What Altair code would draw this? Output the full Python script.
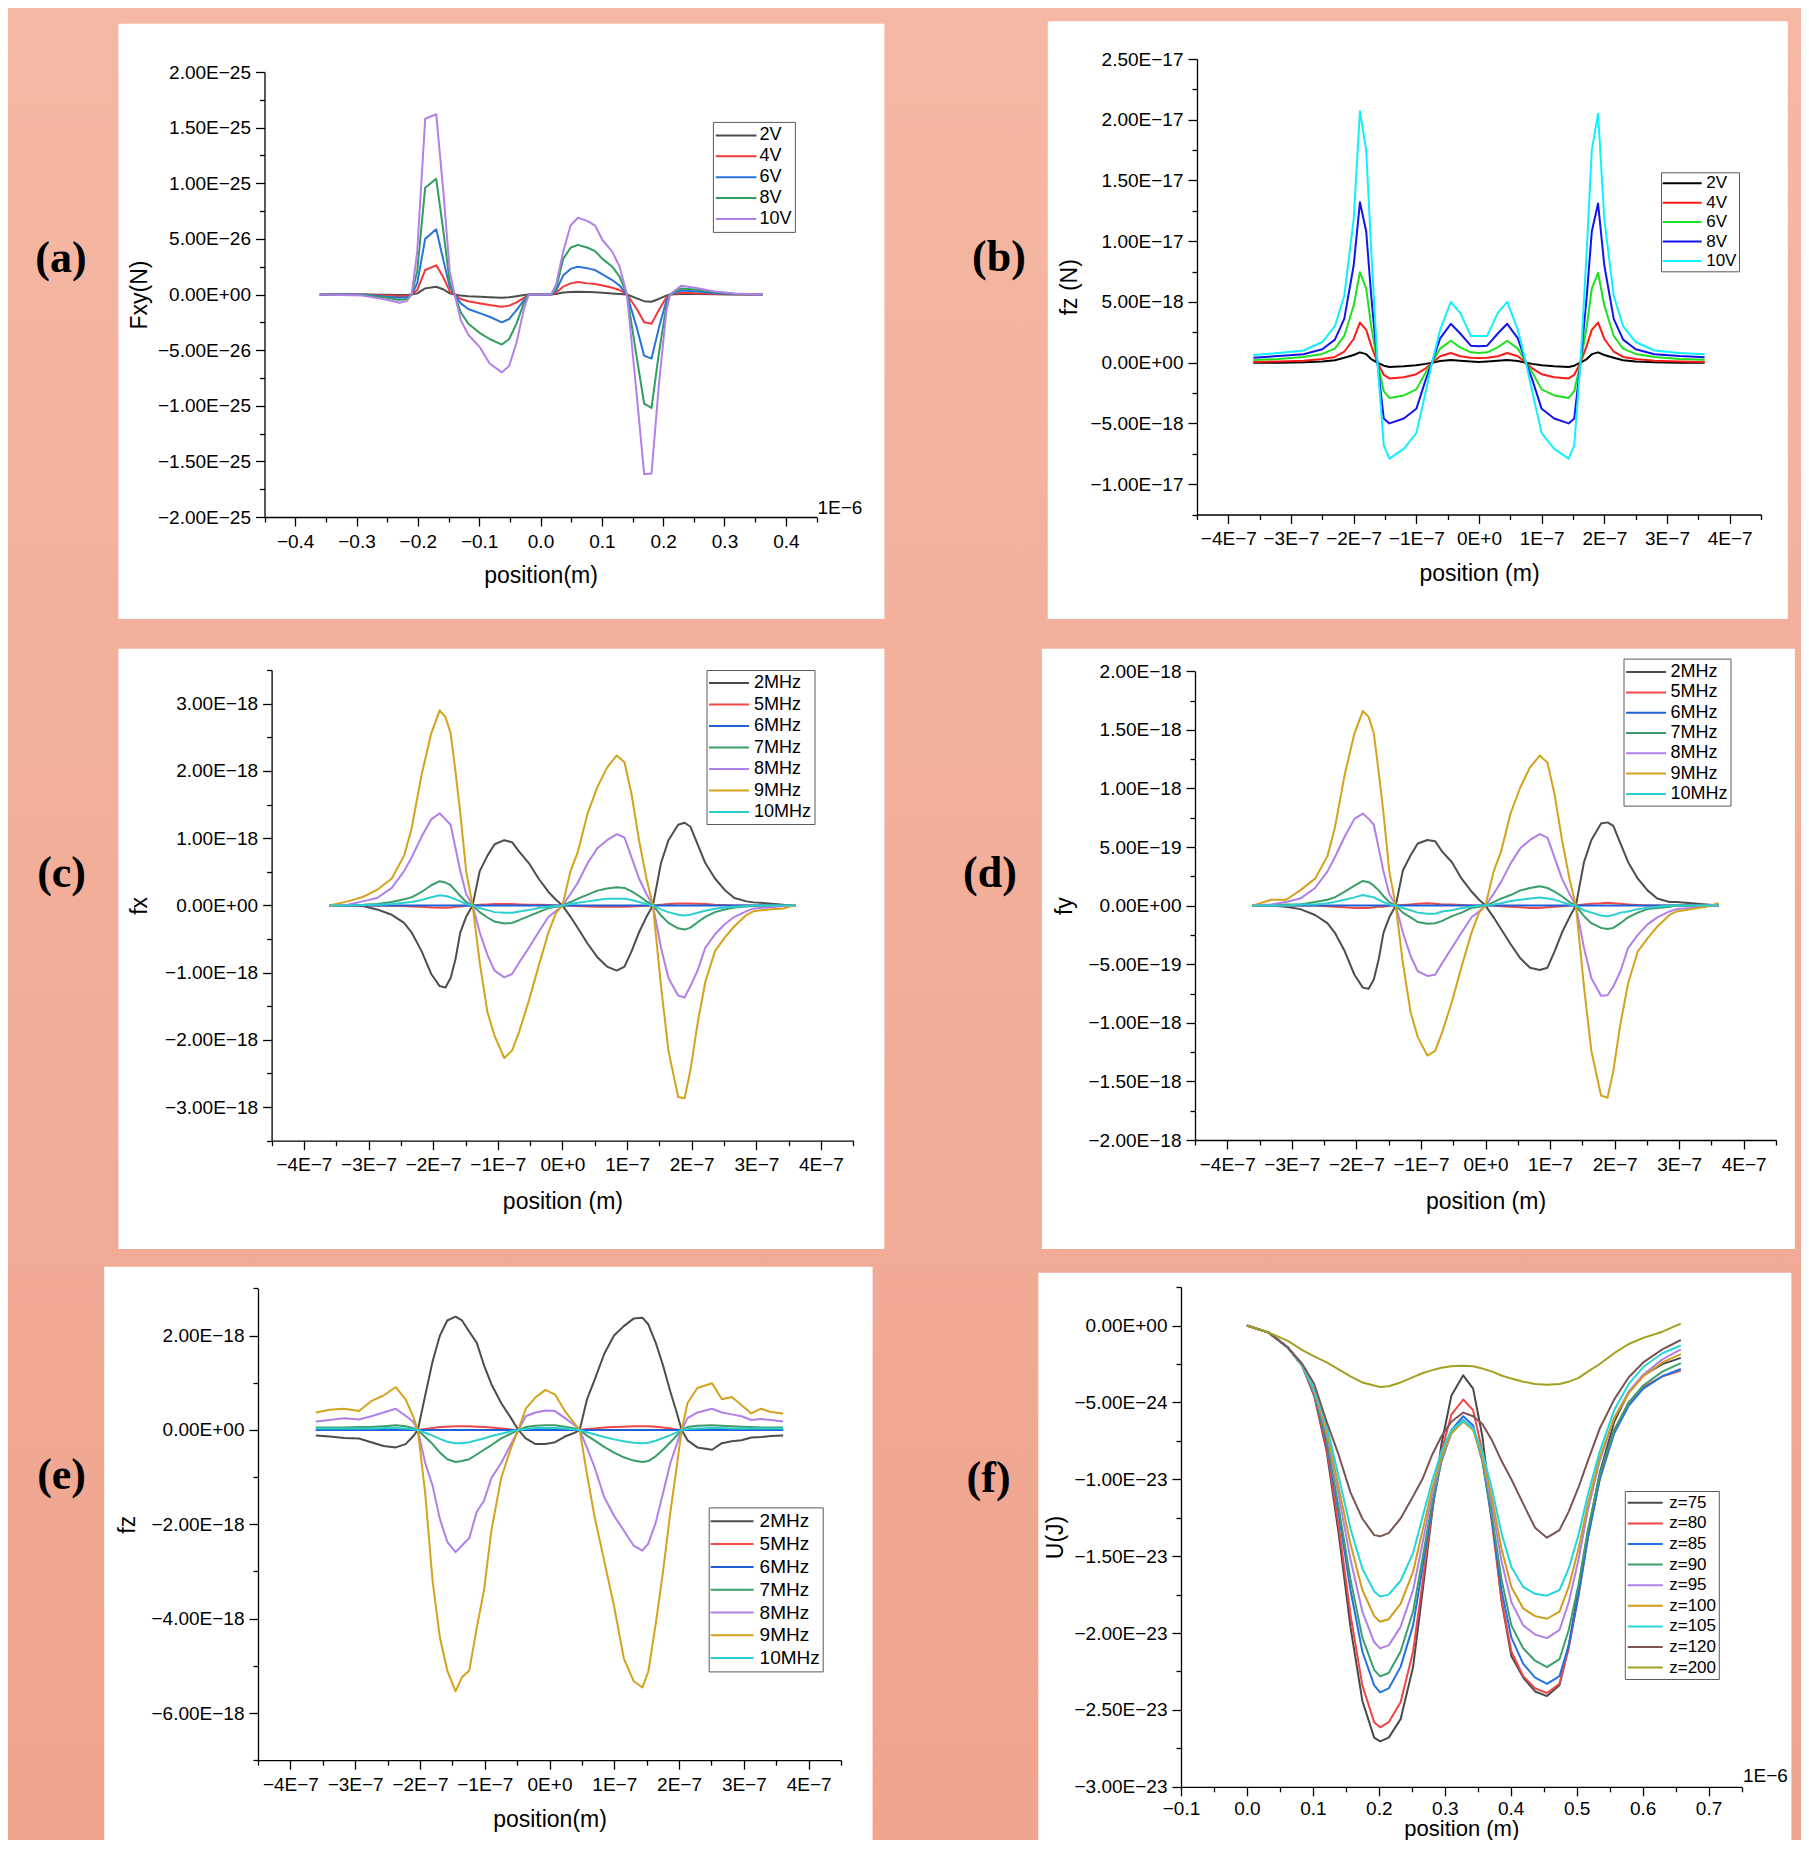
import math
import altair as alt
import pandas as pd

MINUS = "\u2212"
FONT = "Liberation Sans"

# ---------------- (a) Fxy vs position (x in 1e-6 m, y in 1e-25 N) ----------------
A_SERIES = ["2V", "4V", "6V", "8V", "10V"]
A_X = [-0.36, -0.29, -0.25, -0.23, -0.218, -0.21, -0.201, -0.188, -0.17, -0.158, -0.148, -0.14,
       -0.13, -0.118, -0.098, -0.083, -0.063, -0.051, -0.039, -0.027, -0.019, 0.017, 0.025, 0.037,
       0.049, 0.061, 0.077, 0.089, 0.101, 0.117, 0.129, 0.141, 0.157, 0.169, 0.181, 0.193, 0.205,
       0.211, 0.229, 0.252, 0.284, 0.316, 0.362]
A_2V = [0, 0, -0.003, -0.005, -0.004, 0, 0.01, 0.055, 0.07, 0.045, 0.01, 0, -0.01, -0.015, -0.02,
        -0.025, -0.03, -0.025, -0.015, -0.005, 0, 0, 0.005, 0.018, 0.022, 0.024, 0.022, 0.02, 0.015,
        0.01, 0.005, 0, -0.035, -0.06, -0.065, -0.04, -0.01, 0, 0.005, 0.004, 0.002, 0, 0]
A_4V = [0, 0, -0.01, -0.015, -0.012, 0, 0.04, 0.22, 0.262, 0.15, 0.03, 0, -0.04, -0.06, -0.08,
        -0.095, -0.11, -0.10, -0.07, -0.03, 0, 0, 0.015, 0.07, 0.10, 0.112, 0.10, 0.095, 0.08, 0.06,
        0.04, 0, -0.13, -0.25, -0.262, -0.14, -0.03, 0, 0.015, 0.012, 0.005, 0.002, 0]
A_6V = [0, 0, -0.02, -0.03, -0.025, 0, 0.10, 0.50, 0.586, 0.30, 0.07, 0, -0.08, -0.13, -0.17,
        -0.20, -0.25, -0.22, -0.14, -0.05, 0, 0, 0.03, 0.17, 0.23, 0.249, 0.235, 0.22, 0.18, 0.13,
        0.08, 0, -0.30, -0.55, -0.576, -0.30, -0.06, 0, 0.035, 0.03, 0.012, 0.004, 0]
A_8V = [0, -0.005, -0.03, -0.05, -0.04, 0, 0.21, 0.96, 1.04, 0.555, 0.11, 0, -0.16, -0.26, -0.35,
        -0.40, -0.45, -0.40, -0.26, -0.075, 0, 0, 0.044, 0.32, 0.42, 0.446, 0.42, 0.39, 0.32, 0.25,
        0.16, 0, -0.57, -0.98, -1.02, -0.53, -0.11, 0, 0.055, 0.044, 0.02, 0.007, 0]
A_10V = [0, -0.01, -0.048, -0.075, -0.058, 0, 0.385, 1.58, 1.62, 0.90, 0.21, 0, -0.23, -0.36, -0.48,
         -0.62, -0.70, -0.64, -0.43, -0.13, 0, 0, 0.08, 0.385, 0.62, 0.69, 0.66, 0.62, 0.49, 0.385,
         0.25, 0, -0.91, -1.615, -1.61, -0.81, -0.16, 0, 0.078, 0.06, 0.027, 0.01, 0]

# ---------------- (b) fz vs position (x in 1e-7 m, y in 1e-17 N) ----------------
B_SERIES = ["2V", "4V", "6V", "8V", "10V"]
B_X = [-3.6, -3.2, -2.8, -2.5, -2.3, -2.15, -2.0, -1.9, -1.8, -1.72, -1.62, -1.52, -1.43, -1.2,
       -1.0, -0.85, -0.75, -0.62, -0.45, -0.3, -0.13, 0.0, 0.13, 0.3, 0.45, 0.62, 0.75, 0.85, 1.0,
       1.2, 1.43, 1.52, 1.62, 1.72, 1.8, 1.9, 2.0, 2.15, 2.3, 2.5, 2.8, 3.2, 3.6]
B_2V = [0, 0, 0.003, 0.01, 0.02, 0.04, 0.063, 0.085, 0.07, 0.03, 0, -0.025, -0.035, -0.03, -0.022,
        -0.01, 0, 0.013, 0.022, 0.016, 0.01, 0.006, 0.01, 0.016, 0.022, 0.013, 0, -0.01, -0.022,
        -0.03, -0.035, -0.025, 0, 0.03, 0.07, 0.085, 0.063, 0.04, 0.02, 0.01, 0.003, 0, 0]
B_4V = [0.006, 0.01, 0.016, 0.03, 0.047, 0.09, 0.195, 0.33, 0.27, 0.14, 0, -0.10, -0.13, -0.12,
        -0.095, -0.047, 0, 0.053, 0.08, 0.053, 0.04, 0.038, 0.04, 0.053, 0.08, 0.053, 0, -0.047,
        -0.095, -0.12, -0.13, -0.10, 0, 0.14, 0.27, 0.33, 0.195, 0.09, 0.047, 0.03, 0.016, 0.01, 0.006]
B_6V = [0.022, 0.03, 0.047, 0.072, 0.116, 0.22, 0.47, 0.745, 0.61, 0.30, 0, -0.235, -0.29, -0.27,
        -0.22, -0.08, 0, 0.116, 0.18, 0.126, 0.085, 0.08, 0.085, 0.126, 0.18, 0.116, 0, -0.08, -0.22,
        -0.27, -0.29, -0.235, 0, 0.30, 0.61, 0.74, 0.47, 0.22, 0.116, 0.072, 0.047, 0.03, 0.025]
B_8V = [0.04, 0.055, 0.07, 0.11, 0.19, 0.36, 0.80, 1.32, 1.08, 0.55, 0, -0.46, -0.50, -0.46, -0.38,
        -0.14, 0, 0.20, 0.32, 0.24, 0.14, 0.135, 0.14, 0.24, 0.32, 0.20, 0, -0.14, -0.38, -0.46,
        -0.50, -0.46, 0, 0.55, 1.08, 1.31, 0.80, 0.36, 0.19, 0.11, 0.07, 0.055, 0.045]
B_10V = [0.063, 0.08, 0.10, 0.17, 0.30, 0.55, 1.18, 2.07, 1.75, 0.93, 0, -0.68, -0.79, -0.71, -0.58,
         -0.24, 0, 0.27, 0.50, 0.41, 0.22, 0.22, 0.22, 0.41, 0.50, 0.27, 0, -0.24, -0.58, -0.71,
         -0.79, -0.68, 0, 0.93, 1.75, 2.05, 1.18, 0.55, 0.30, 0.17, 0.10, 0.08, 0.07]

# ---------------- (c) fx vs position (x in 1e-7 m, y in 1e-18) ----------------
MHZ_SERIES = ["2MHz", "5MHz", "6MHz", "7MHz", "8MHz", "9MHz", "10MHz"]
C_X = [-3.61, -3.32, -3.09, -2.87, -2.64, -2.45, -2.335, -2.18, -2.03, -1.90, -1.81, -1.73, -1.655,
       -1.58, -1.49, -1.39, -1.28, -1.16, -1.05, -0.90, -0.78, -0.67, -0.52, -0.37, -0.216, -0.10,
       0.0, 0.125, 0.24, 0.39, 0.54, 0.69, 0.84, 0.96, 1.07, 1.185, 1.30, 1.40, 1.525, 1.64, 1.79,
       1.89, 1.98, 2.09, 2.21, 2.36, 2.51, 2.66, 2.85, 2.96, 3.19, 3.42, 3.61]
C_2 = [0, 0, -0.01, -0.06, -0.14, -0.26, -0.40, -0.68, -1.02, -1.20, -1.22, -1.08, -0.80, -0.40,
       -0.17, 0, 0.51, 0.74, 0.91, 0.97, 0.94, 0.80, 0.63, 0.40, 0.20, 0.085, 0, -0.17, -0.34, -0.57,
       -0.77, -0.91, -0.97, -0.91, -0.68, -0.40, -0.17, 0, 0.63, 0.97, 1.20, 1.23, 1.17, 0.91, 0.63,
       0.40, 0.23, 0.11, 0.06, 0.045, 0.03, 0.01, 0]
C_5 = [0, 0, 0, 0, -0.005, -0.01, -0.015, -0.02, -0.03, -0.035, -0.035, -0.03, -0.02, -0.015, -0.005,
       0, 0.01, 0.015, 0.02, 0.02, 0.02, 0.015, 0.01, 0.01, 0.005, 0, 0, -0.005, -0.01, -0.015, -0.02,
       -0.02, -0.02, -0.02, -0.015, -0.01, -0.005, 0, 0.01, 0.02, 0.03, 0.03, 0.03, 0.025, 0.02, 0.01,
       0.005, 0, 0, 0, 0, 0, 0]
C_6 = [0, 0, 0, 0, 0, 0, 0, 0, 0, 0, 0, 0, 0, 0, 0, 0, 0, 0, 0, 0, 0, 0, 0, 0, 0, 0, 0,
       0, 0, 0, 0, 0, 0, 0, 0, 0, 0, 0, 0, 0, 0, 0, 0, 0, 0, 0, 0, 0, 0, 0, 0, 0, 0]
C_7 = [0, 0.005, 0.01, 0.02, 0.05, 0.09, 0.12, 0.20, 0.30, 0.36, 0.34, 0.30, 0.22, 0.14, 0.05, 0,
       -0.10, -0.18, -0.24, -0.27, -0.26, -0.22, -0.16, -0.10, -0.04, -0.02, 0, 0.05, 0.10, 0.16,
       0.22, 0.25, 0.27, 0.26, 0.21, 0.14, 0.06, 0, -0.15, -0.26, -0.34, -0.36, -0.33, -0.25, -0.17,
       -0.10, -0.06, -0.03, -0.015, -0.01, 0, 0, 0]
C_8 = [0, 0.01, 0.06, 0.11, 0.26, 0.51, 0.71, 1.02, 1.28, 1.37, 1.28, 1.20, 0.85, 0.51, 0.17, 0,
       -0.40, -0.74, -0.97, -1.07, -1.02, -0.85, -0.63, -0.40, -0.17, -0.085, 0, 0.17, 0.34, 0.63,
       0.85, 0.97, 1.06, 1.01, 0.71, 0.40, 0.17, 0, -0.63, -1.08, -1.34, -1.37, -1.20, -0.97, -0.63,
       -0.43, -0.28, -0.17, -0.085, -0.045, -0.03, -0.01, 0]
C_9 = [0, 0.06, 0.125, 0.23, 0.40, 0.74, 1.14, 1.94, 2.56, 2.90, 2.80, 2.56, 1.99, 1.37, 0.51, 0,
       -0.85, -1.59, -1.94, -2.27, -2.16, -1.88, -1.42, -0.91, -0.40, -0.11, 0, 0.51, 0.80, 1.37,
       1.76, 2.05, 2.23, 2.13, 1.65, 0.97, 0.40, 0, -1.20, -2.16, -2.85, -2.87, -2.45, -1.76, -1.14,
       -0.68, -0.48, -0.31, -0.14, -0.085, -0.06, -0.045, 0.01]
C_10 = [0, 0, 0.005, 0.01, 0.02, 0.04, 0.05, 0.08, 0.12, 0.15, 0.14, 0.12, 0.09, 0.06, 0.02, 0,
        -0.04, -0.07, -0.10, -0.11, -0.11, -0.09, -0.07, -0.04, -0.02, -0.01, 0, 0.02, 0.04, 0.06,
        0.08, 0.10, 0.10, 0.10, 0.08, 0.05, 0.02, 0, -0.06, -0.10, -0.14, -0.15, -0.14, -0.11, -0.08,
        -0.05, -0.03, -0.02, -0.01, 0, 0, 0, 0]

# ---------------- (d) fy vs position (x in 1e-7 m, y in 1e-18) ----------------
D_X = [-3.61, -3.32, -3.09, -2.87, -2.64, -2.45, -2.335, -2.18, -2.03, -1.90, -1.81, -1.73, -1.655,
       -1.58, -1.49, -1.39, -1.28, -1.16, -1.05, -0.90, -0.78, -0.67, -0.52, -0.37, -0.216, -0.10,
       0.0, 0.125, 0.24, 0.39, 0.54, 0.69, 0.84, 0.96, 1.07, 1.185, 1.30, 1.40, 1.525, 1.64, 1.79,
       1.89, 1.98, 2.09, 2.21, 2.36, 2.51, 2.66, 2.85, 2.96, 3.19, 3.42, 3.61]
D_2 = [0, 0, -0.01, -0.03, -0.08, -0.15, -0.23, -0.39, -0.59, -0.70, -0.71, -0.63, -0.46, -0.23,
       -0.10, 0, 0.30, 0.43, 0.53, 0.56, 0.55, 0.46, 0.37, 0.23, 0.12, 0.05, 0, -0.10, -0.20, -0.33,
       -0.45, -0.53, -0.55, -0.53, -0.39, -0.23, -0.10, 0, 0.37, 0.56, 0.70, 0.71, 0.68, 0.53, 0.37,
       0.23, 0.13, 0.06, 0.03, 0.03, 0.02, 0.01, 0]
D_5 = [0, 0, 0, 0, 0, -0.005, -0.01, -0.015, -0.02, -0.02, -0.02, -0.015, -0.01, -0.01, 0, 0, 0.005,
       0.01, 0.015, 0.02, 0.015, 0.01, 0.01, 0.005, 0, 0, 0, 0, -0.005, -0.01, -0.015, -0.02, -0.02,
       -0.015, -0.01, -0.005, 0, 0, 0.01, 0.015, 0.02, 0.025, 0.02, 0.015, 0.01, 0.005, 0, 0, 0, 0,
       0, 0, 0]
D_6 = [0, 0, 0, 0, 0, 0, 0, 0, 0, 0, 0, 0, 0, 0, 0, 0, 0, 0, 0, 0, 0, 0, 0, 0, 0, 0, 0,
       0, 0, 0, 0, 0, 0, 0, 0, 0, 0, 0, 0, 0, 0, 0, 0, 0, 0, 0, 0, 0, 0, 0, 0, 0, 0]
D_7 = [0, 0, 0.01, 0.01, 0.03, 0.05, 0.07, 0.12, 0.17, 0.21, 0.20, 0.17, 0.13, 0.08, 0.03, 0, -0.06,
       -0.10, -0.14, -0.155, -0.15, -0.13, -0.09, -0.06, -0.02, -0.01, 0, 0.03, 0.06, 0.09, 0.13,
       0.15, 0.165, 0.15, 0.12, 0.08, 0.03, 0, -0.09, -0.15, -0.19, -0.20, -0.19, -0.15, -0.10,
       -0.06, -0.03, -0.02, -0.01, 0, 0, 0, 0]
D_8 = [0, 0.01, 0.03, 0.06, 0.15, 0.29, 0.41, 0.59, 0.74, 0.785, 0.74, 0.69, 0.49, 0.29, 0.10, 0,
       -0.23, -0.43, -0.56, -0.60, -0.59, -0.49, -0.36, -0.23, -0.10, -0.05, 0, 0.10, 0.20, 0.36,
       0.49, 0.56, 0.61, 0.58, 0.41, 0.23, 0.10, 0, -0.36, -0.62, -0.77, -0.765, -0.69, -0.56, -0.36,
       -0.25, -0.16, -0.10, -0.05, -0.03, -0.02, 0, 0]
D_9 = [0, 0.05, 0.05, 0.13, 0.23, 0.42, 0.66, 1.12, 1.47, 1.66, 1.61, 1.47, 1.14, 0.79, 0.29, 0,
       -0.49, -0.91, -1.12, -1.28, -1.24, -1.08, -0.82, -0.52, -0.23, -0.06, 0, 0.29, 0.46, 0.79,
       1.01, 1.18, 1.28, 1.22, 0.95, 0.56, 0.23, 0, -0.69, -1.24, -1.62, -1.64, -1.41, -1.01, -0.66,
       -0.39, -0.28, -0.18, -0.08, -0.05, -0.03, -0.01, 0.02]
D_10 = [0, 0, 0, 0.01, 0.01, 0.02, 0.03, 0.05, 0.07, 0.09, 0.08, 0.07, 0.05, 0.03, 0.01, 0, -0.02,
        -0.04, -0.06, -0.07, -0.07, -0.05, -0.04, -0.02, -0.01, 0, 0, 0.01, 0.02, 0.04, 0.05, 0.06,
        0.07, 0.06, 0.05, 0.03, 0.01, 0, -0.04, -0.06, -0.085, -0.09, -0.08, -0.06, -0.05, -0.03,
        -0.02, -0.01, 0, 0, 0, 0, 0]

# ---------------- (e) fz vs position (x in 1e-7 m, y in 1e-18) ----------------
E_X = [-3.607, -3.395, -3.168, -2.941, -2.752, -2.562, -2.373, -2.222, -2.108, -2.033, -1.919,
       -1.805, -1.692, -1.578, -1.45, -1.351, -1.238, -1.124, -1.011, -0.897, -0.746, -0.594,
       -0.481, -0.367, -0.216, -0.064, 0.087, 0.238, 0.39, 0.466, 0.579, 0.693, 0.844, 0.996, 1.147,
       1.298, 1.434, 1.525, 1.639, 1.752, 1.866, 1.964, 2.04, 2.131, 2.283, 2.51, 2.661, 2.813,
       2.964, 3.115, 3.267, 3.418, 3.607]
E_2 = [-0.12, -0.14, -0.17, -0.18, -0.26, -0.34, -0.37, -0.30, -0.14, 0, 0.73, 1.45, 2.0, 2.32, 2.40,
       2.32, 2.08, 1.85, 1.37, 0.97, 0.57, 0.25, 0, -0.18, -0.30, -0.30, -0.26, -0.14, -0.06, 0, 0.65,
       1.05, 1.61, 2.0, 2.20, 2.36, 2.38, 2.24, 1.85, 1.37, 0.81, 0.37, 0, -0.22, -0.37, -0.42, -0.28,
       -0.24, -0.22, -0.16, -0.15, -0.13, -0.12]
E_5 = [0, 0, 0, 0, 0, 0, 0, 0, 0, 0, 0.02, 0.04, 0.06, 0.07, 0.08, 0.08, 0.08, 0.07, 0.06, 0.05, 0.03,
       0.01, 0, 0, 0, 0, 0, 0, 0, 0, 0.02, 0.03, 0.05, 0.06, 0.07, 0.08, 0.08, 0.08, 0.07, 0.05, 0.03,
       0.01, 0, 0, 0, 0, 0, 0, 0, 0, 0, 0, 0]
E_6 = [0, 0, 0, 0, 0, 0, 0, 0, 0, 0, 0, 0, 0, 0, 0, 0, 0, 0, 0, 0, 0, 0, 0, 0, 0, 0, 0,
       0, 0, 0, 0, 0, 0, 0, 0, 0, 0, 0, 0, 0, 0, 0, 0, 0, 0, 0, 0, 0, 0, 0, 0, 0, 0]
E_7 = [0.05, 0.05, 0.05, 0.06, 0.06, 0.08, 0.10, 0.08, 0.04, 0, -0.15, -0.30, -0.48, -0.62, -0.68,
       -0.66, -0.62, -0.52, -0.42, -0.32, -0.18, -0.08, 0, 0.06, 0.09, 0.10, 0.10, 0.07, 0.03, 0,
       -0.12, -0.22, -0.36, -0.48, -0.58, -0.65, -0.68, -0.66, -0.56, -0.42, -0.26, -0.12, 0, 0.06,
       0.09, 0.10, 0.09, 0.08, 0.07, 0.06, 0.05, 0.05, 0.05]
E_8 = [0.18, 0.21, 0.25, 0.22, 0.29, 0.37, 0.45, 0.30, 0.18, 0, -0.70, -1.18, -1.89, -2.37, -2.59,
       -2.45, -2.29, -1.74, -1.50, -1.02, -0.70, -0.30, 0, 0.29, 0.37, 0.41, 0.40, 0.25, 0.10, 0,
       -0.38, -0.78, -1.42, -1.82, -2.13, -2.45, -2.56, -2.41, -1.97, -1.34, -0.70, -0.30, 0, 0.25,
       0.37, 0.45, 0.37, 0.33, 0.29, 0.21, 0.23, 0.21, 0.18]
E_9 = [0.37, 0.43, 0.45, 0.40, 0.61, 0.73, 0.91, 0.65, 0.30, 0, -1.34, -3.2, -4.4, -5.1, -5.54,
       -5.24, -5.1, -4.2, -3.4, -2.13, -1.02, -0.38, 0, 0.45, 0.69, 0.85, 0.75, 0.40, 0.13, 0, -0.94,
       -1.82, -2.77, -3.73, -4.84, -5.32, -5.46, -5.12, -4.12, -3.01, -1.74, -0.78, 0, 0.57, 0.89,
       0.99, 0.65, 0.70, 0.53, 0.35, 0.45, 0.38, 0.35]
E_10 = [0.03, 0.03, 0.03, 0.03, 0.03, 0.04, 0.04, 0.03, 0.02, 0, -0.06, -0.12, -0.19, -0.25, -0.28,
        -0.28, -0.26, -0.22, -0.18, -0.13, -0.08, -0.03, 0, 0.02, 0.04, 0.04, 0.04, 0.03, 0.01, 0,
        -0.05, -0.09, -0.15, -0.20, -0.24, -0.27, -0.28, -0.27, -0.23, -0.17, -0.11, -0.05, 0, 0.02,
        0.03, 0.04, 0.04, 0.03, 0.03, 0.03, 0.03, 0.03, 0.03]

# ---------------- (f) U vs position (x in 1e-6 m, y in 1e-23 J) ----------------
F_SERIES = ["z=75", "z=80", "z=85", "z=90", "z=95", "z=100", "z=105", "z=120", "z=200"]
F_X = [0, 0.033, 0.062, 0.084, 0.102, 0.121, 0.139, 0.157, 0.175, 0.193, 0.202, 0.215, 0.233,
       0.252, 0.266, 0.281, 0.295, 0.310, 0.328, 0.343, 0.357, 0.372, 0.386, 0.401, 0.419, 0.437,
       0.455, 0.474, 0.488, 0.503, 0.517, 0.535, 0.557, 0.579, 0.601, 0.630, 0.658]
F_75 = [0, -0.046, -0.143, -0.264, -0.457, -0.82, -1.35, -1.96, -2.44, -2.68, -2.705, -2.68, -2.56,
        -2.22, -1.74, -1.21, -0.77, -0.457, -0.324, -0.41, -0.72, -1.25, -1.79, -2.15, -2.29, -2.38,
        -2.41, -2.34, -2.08, -1.71, -1.35, -0.96, -0.626, -0.433, -0.324, -0.251, -0.21]
F_80 = [0, -0.046, -0.143, -0.26, -0.45, -0.80, -1.30, -1.88, -2.34, -2.58, -2.613, -2.58, -2.45,
        -2.12, -1.68, -1.20, -0.82, -0.58, -0.481, -0.55, -0.82, -1.30, -1.78, -2.12, -2.28, -2.36,
        -2.39, -2.33, -2.10, -1.75, -1.38, -1.00, -0.68, -0.50, -0.40, -0.33, -0.293]
F_85 = [0, -0.046, -0.143, -0.26, -0.44, -0.76, -1.22, -1.72, -2.12, -2.34, -2.386, -2.36, -2.22,
        -1.95, -1.58, -1.18, -0.88, -0.68, -0.59, -0.65, -0.88, -1.28, -1.72, -2.03, -2.20, -2.29,
        -2.33, -2.28, -2.08, -1.75, -1.38, -1.00, -0.70, -0.52, -0.41, -0.33, -0.283]
F_90 = [0, -0.046, -0.143, -0.26, -0.44, -0.74, -1.18, -1.65, -2.03, -2.24, -2.282, -2.26, -2.12,
        -1.86, -1.52, -1.15, -0.88, -0.70, -0.614, -0.67, -0.88, -1.25, -1.65, -1.95, -2.10, -2.18,
        -2.222, -2.17, -1.98, -1.68, -1.33, -0.97, -0.68, -0.50, -0.39, -0.30, -0.244]
F_95 = [0, -0.046, -0.143, -0.26, -0.43, -0.70, -1.10, -1.52, -1.86, -2.06, -2.10, -2.08, -1.96,
        -1.72, -1.42, -1.10, -0.86, -0.70, -0.62, -0.67, -0.86, -1.18, -1.53, -1.80, -1.95, -2.01,
        -2.033, -1.98, -1.80, -1.52, -1.20, -0.88, -0.60, -0.43, -0.32, -0.22, -0.155]
F_100 = [0, -0.046, -0.143, -0.26, -0.42, -0.68, -1.05, -1.42, -1.72, -1.89, -1.927, -1.91, -1.81,
         -1.60, -1.34, -1.06, -0.85, -0.70, -0.626, -0.68, -0.85, -1.13, -1.45, -1.70, -1.84, -1.89,
         -1.907, -1.86, -1.70, -1.45, -1.16, -0.86, -0.60, -0.44, -0.33, -0.24, -0.186]
F_105 = [0, -0.046, -0.143, -0.26, -0.41, -0.65, -0.98, -1.32, -1.58, -1.73, -1.762, -1.75, -1.66,
         -1.48, -1.25, -1.01, -0.82, -0.68, -0.62, -0.67, -0.82, -1.07, -1.35, -1.57, -1.70, -1.745,
         -1.757, -1.72, -1.58, -1.36, -1.10, -0.82, -0.55, -0.38, -0.27, -0.18, -0.13]
F_120 = [0, -0.046, -0.143, -0.25, -0.38, -0.626, -0.84, -1.085, -1.255, -1.363, -1.371, -1.35,
         -1.255, -1.11, -1.00, -0.84, -0.72, -0.626, -0.566, -0.59, -0.64, -0.75, -0.88, -1.00,
         -1.16, -1.315, -1.38, -1.33, -1.21, -1.05, -0.88, -0.67, -0.48, -0.336, -0.24, -0.155, -0.094]
F_200 = [0, -0.046, -0.10, -0.16, -0.20, -0.24, -0.285, -0.33, -0.37, -0.39, -0.40, -0.395, -0.37,
         -0.335, -0.31, -0.29, -0.275, -0.265, -0.262, -0.265, -0.28, -0.30, -0.325, -0.345, -0.365,
         -0.38, -0.385, -0.38, -0.365, -0.34, -0.30, -0.25, -0.18, -0.12, -0.08, -0.04, 0.012]

A_COL = ["#4D4D4D", "#F2383A", "#2A73DA", "#2F9E5F", "#B47FE8"]
B_COL = ["#000000", "#FF1A1A", "#1EE01E", "#1414F0", "#10F0FF"]
MHZ_COL = ["#4D4D4D", "#F24848", "#1F5FD8", "#3A9D68", "#B07FE8", "#D4A21C", "#2CCFCF"]
F_COL = ["#4A4A4A", "#F24444", "#2472E0", "#3BA06C", "#B07FE8", "#D39B1A", "#22D6DE", "#7D5353", "#A3A020"]


def long_df(xs, names, cols):
    rows = []
    for name, ys in zip(names, cols):
        assert len(ys) == len(xs), (name, len(ys), len(xs))
        for xv, yv in zip(xs, ys):
            rows.append({"x": xv, "y": yv, "s": name})
    return pd.DataFrame(rows)


# ---------------- tick label helpers ----------------
def sci(v, E):
    if abs(v) < 1e-12:
        return "0.00E+00"
    e = math.floor(math.log10(abs(v)) + 1e-9)
    m = v / 10 ** e
    ex = e + E
    s = "%.2fE%s%02d" % (m, "+" if ex >= 0 else "-", abs(ex))
    return s.replace("-", MINUS)


def expo7(v):
    if abs(v) < 1e-12:
        return "0E+0"
    return ("%dE-7" % round(v)).replace("-", MINUS)


def dec1(v):
    if abs(v) < 1e-12:
        return "0.0"
    return ("%.1f" % v).replace("-", MINUS)


def match(v):
    return "abs(datum.value - (%r)) < 1e-6" % v


def rng(a, step, n):
    return [round(a + step * i, 4) for i in range(n)]


X7_MAJ = rng(-4, 1, 9)
X7_MIN = rng(-4.5, 1, 10)
TICK_FS = 19


def base_axis(majors, minors, fmt, title, tfs):
    lab = " : ".join("%s ? '%s'" % (match(v), fmt(v)) for v in majors) + " : ''"
    big = " || ".join(match(v) for v in majors)
    return dict(
        values=sorted(majors + minors), labelExpr=lab,
        tickSize={"condition": {"test": big, "value": 9}, "value": 5},
        title=title, grid=False, zindex=1,
        domainColor="black", domainWidth=1.3, tickColor="black", tickWidth=1.3,
        labelColor="black", labelFont=FONT, labelFontSize=TICK_FS, labelOverlap=False,
        labelFlush=False, titleFont=FONT, titleFontSize=tfs, titleFontWeight="normal",
        titleColor="black", titleBaseline="alphabetic", titleAlign="center",
    )


def grad(c0, c1):
    return alt.LinearGradient(gradient="linear", x1=0, x2=0, y1=0, y2=1,
                              stops=[alt.GradientStop(color=c0, offset=0),
                                     alt.GradientStop(color=c1, offset=1)])


def panel(p):
    """Each cell is a full view of size (Wc, Hc); the plot occupies the sub-rectangle
    starting at (x0, y0) of size (W, H) through explicit scale ranges and axis offsets."""
    Wc, Hc, x0, y0, W, H = p["cell"]
    one = pd.DataFrame({"k": [0]})
    bg = alt.Chart(one).mark_rect(fill=p["fill"], strokeWidth=0).encode(
        x=alt.value(0), x2=alt.value(Wc), y=alt.value(0), y2=alt.value(Hc))
    wx0, wx1, wy0, wy1 = p["white"]
    wh = alt.Chart(one).mark_rect(fill="white", strokeWidth=0).encode(
        x=alt.value(wx0), x2=alt.value(wx1), y=alt.value(wy0), y2=alt.value(wy1))
    xmaj, xmin, xfmt, xtitle, xty, xtfs, xlpad = p["xaxis"]
    ymaj, ymin, yfmt, ytitle, ytx = p["yaxis"]
    xaxis = alt.Axis(**base_axis(xmaj, xmin, xfmt, xtitle, xtfs),
                     offset=-(Hc - y0 - H), labelPadding=xlpad,
                     titleX=x0 + W / 2, titleY=xty)
    yaxis = alt.Axis(**base_axis(ymaj, ymin, yfmt, ytitle, 23),
                     offset=-x0, labelPadding=5, titleX=ytx, titleY=y0 + H / 2,
                     titleAngle=270)
    lx, ly, pad, s, rp, so, lo, k, fs = p["legend"]
    legend = alt.Legend(
        orient="none", legendX=lx, legendY=ly, title=None, direction="vertical",
        symbolType="M-%s,0H%s" % (k, k), symbolSize=s, symbolStrokeWidth=2,
        symbolOffset=so, labelOffset=lo, padding=pad, rowPadding=rp,
        labelFont=FONT, labelFontSize=fs, labelColor="black", labelLimit=300,
        strokeColor="#5A5A5A", fillColor="white", cornerRadius=0)
    lines = alt.Chart(p["df"]).mark_line(strokeWidth=2, strokeJoin="round").encode(
        x=alt.X("x:Q", scale=alt.Scale(domain=p["xdom"], range=[x0, x0 + W], nice=False,
                                       zero=False), axis=xaxis),
        y=alt.Y("y:Q", scale=alt.Scale(domain=p["ydom"], range=[y0 + H, y0], nice=False,
                                       zero=False), axis=yaxis),
        color=alt.Color("s:N", scale=alt.Scale(domain=p["order"], range=p["colors"]),
                        legend=legend),
    )
    txt = alt.Chart(pd.DataFrame({"t": [p["letter"]]})).mark_text(
        font="Liberation Serif", fontWeight="bold", fontSize=44, align="center",
        baseline="alphabetic", color="black").encode(
        x=alt.value(p["letter_xy"][0]), y=alt.value(p["letter_xy"][1]), text="t:N")
    layers = [bg, wh, lines, txt]
    if p.get("e6") is not None:
        layers.append(alt.Chart(pd.DataFrame({"t": ["1E" + MINUS + "6"]})).mark_text(
            font=FONT, fontSize=19, align="left", baseline="alphabetic", color="black").encode(
            x=alt.value(p["e6"][0]), y=alt.value(p["e6"][1]), text="t:N"))
    return alt.layer(*layers).properties(width=Wc, height=Hc)


ROW1 = grad("#F5B8A4", "#F3B19C")
ROW2 = grad("#F3B19C", "#F1AA95")
ROW3 = grad("#F1AA95", "#EFA48E")
WL, WR = 916, 877

pa = panel(dict(
    letter="(a)", df=long_df(A_X, A_SERIES, [A_2V, A_4V, A_6V, A_8V, A_10V]),
    order=A_SERIES, colors=A_COL, xdom=[-0.45, 0.45], ydom=[-2, 2],
    cell=(WL, 626, 256.5, 64, 552, 445),
    xaxis=(rng(-0.4, 0.1, 9), rng(-0.45, 0.1, 10), dec1, "position(m)", 65, 23, 6),
    yaxis=(rng(-2, 0.5, 9), rng(-1.75, 0.5, 8), lambda v: sci(v, -25), "Fxy(N)", -118),
    white=(110.4, 876.4, 15.7, 611), letter_xy=(53, 264),
    legend=(704.9, 113.9, 3, 361, 0.9, 9.7, 13, 2.137, 18), fill=ROW1, e6=(809.5, 506)))

pb = panel(dict(
    letter="(b)", df=long_df(B_X, B_SERIES, [B_2V, B_4V, B_6V, B_8V, B_10V]),
    order=B_SERIES, colors=B_COL, xdom=[-4.5, 4.5], ydom=[-1.25, 2.5],
    cell=(WR, 626, 273, 51, 564, 455.5),
    xaxis=(X7_MAJ, X7_MIN, expo7, "position (m)", 66, 23, 6),
    yaxis=(rng(-1, 0.5, 8), rng(-1.25, 0.5, 8), lambda v: sci(v, -17), "fz (N)", -121),
    white=(123.8, 863.8, 13.3, 611), letter_xy=(75, 263),
    legend=(737, 164.3, 2, 256, 2.4, 10.2, 15, 2.4375, 17), fill=ROW1))

pc = panel(dict(
    letter="(c)", df=long_df(C_X, MHZ_SERIES, [C_2, C_5, C_6, C_7, C_8, C_9, C_10]),
    order=MHZ_SERIES, colors=MHZ_COL, xdom=[-4.5, 4.5], ydom=[-3.5, 3.5],
    cell=(WL, 624, 263.6, 36.1, 581.7, 470.6),
    xaxis=(X7_MAJ, X7_MIN, expo7, "position (m)", 68, 23, 6),
    yaxis=(rng(-3, 1, 7), rng(-3.5, 1, 8), lambda v: sci(v, -18), "fx", -125.6),
    white=(110.4, 876.4, 14.8, 615), letter_xy=(53.6, 253),
    legend=(698.5, 36, 2.5, 361, 1.5, 9.5, 14.5, 2.105, 18), fill=ROW2))

pd_ = panel(dict(
    letter="(d)", df=long_df(D_X, MHZ_SERIES, [D_2, D_5, D_6, D_7, D_8, D_9, D_10]),
    order=MHZ_SERIES, colors=MHZ_COL, xdom=[-4.5, 4.5], ydom=[-2, 2],
    cell=(WR, 624, 271, 37.2, 581, 468.8),
    xaxis=(X7_MAJ, X7_MIN, expo7, "position (m)", 68.5, 23, 6),
    yaxis=(rng(-2, 0.5, 9), rng(-1.75, 0.5, 8), lambda v: sci(v, -18), "fy", -124),
    white=(117.9, 870.9, 14.8, 615), letter_xy=(66, 253),
    legend=(699.5, 24.6, 2.5, 400, 0.3, 9, 13.5, 2.0, 18), fill=ROW2))

pe = panel(dict(
    letter="(e)", df=long_df(E_X, MHZ_SERIES, [E_2, E_5, E_6, E_7, E_8, E_9, E_10]),
    order=MHZ_SERIES, colors=MHZ_COL, xdom=[-4.5, 4.5], ydom=[-7, 3],
    cell=(WL, 582, 250, 30.4, 583, 471.8),
    xaxis=(X7_MAJ, X7_MIN, expo7, "position(m)", 66.4, 23, 6),
    yaxis=(rng(-6, 2, 5), rng(-7, 2, 6), lambda v: sci(v, -18), "fz", -124),
    white=(96.2, 864.6, 8.8, 582), letter_xy=(53.6, 231),
    legend=(700.7, 249.4, 2.4, 441, 0.8, 9.5, 16, 2.048, 19), fill=ROW3))

pf = panel(dict(
    letter="(f)",
    df=long_df(F_X, F_SERIES, [F_75, F_80, F_85, F_90, F_95, F_100, F_105, F_120, F_200]),
    order=F_SERIES, colors=F_COL, xdom=[-0.1, 0.75], ydom=[-3, 0.25],
    cell=(WR, 582, 257, 29.1, 560.5, 499.7),
    xaxis=(rng(-0.1, 0.1, 9), rng(-0.05, 0.1, 9), dec1, "position (m)", 49, 22, 4),
    yaxis=(rng(-3, 0.5, 7), rng(-2.75, 0.5, 7), lambda v: sci(v, -23), "U(J)", -119),
    white=(114.3, 867.4, 14.8, 582), letter_xy=(64.6, 234),
    legend=(700.8, 233, 2.8, 256, 3.6, 8.6, 15, 2.1875, 17), fill=ROW3, e6=(819, 524.1)))

chart = alt.concat(
    pa, pb, pc, pd_, pe, pf, columns=2, spacing=0,
).resolve_scale(color="independent").resolve_legend(color="independent").properties(
    background="#F2AE99", padding=0).configure_view(stroke=None)

chart.save("out.html", embed_options={"renderer": "svg", "actions": False})
